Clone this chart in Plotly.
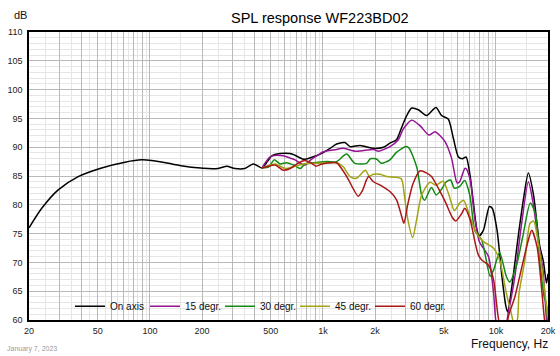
import plotly.graph_objects as go

# ---------------- data ----------------
on_f = [20, 23.7, 29.5, 38.5, 52.6, 71.8, 89.6, 102, 134, 174, 248, 278, 310, 353, 396, 444,
        480, 506, 565, 646, 690, 772, 862, 964, 1100, 1200, 1340, 1435, 1640, 1960, 2240, 2440,
        2660, 2840, 3030, 3260, 3560, 3980, 4500, 4850, 5300, 5680, 6070, 6400, 6720, 7080,
        7380, 7740, 8000, 8470, 9170, 9520, 10150, 10840, 11400, 11700, 12260, 13480, 14500,
        15400, 16500, 17900, 18800, 19600, 20000]
on_db = [76.0, 79.4, 82.6, 84.9, 86.4, 87.4, 87.8, 87.7, 87.1, 86.5, 86.3, 86.7, 86.3, 86.3, 87.1, 86.4,
         87.6, 88.5, 88.9, 88.9, 88.6, 87.9, 88.25, 88.8, 89.8, 90.55, 90.8, 90.1, 90.3, 89.8, 90.0, 90.7,
         91.3, 93.3, 95.3, 96.8, 96.5, 95.5, 96.9, 95.5, 94.9, 91.5, 88.3, 88.0, 88.3, 85.2,
         80.8, 75.9, 74.6, 75.6, 79.7, 79.4, 75.6, 67.5, 62.5, 61.4, 65.0, 74.7, 81.4,
         85.5, 81.7, 72.9, 70.2, 66.4, 68.0]

d15_f = [444, 495, 540, 590, 646, 690, 740, 790, 850, 964, 1006, 1200, 1300, 1560, 1960, 2090,
         2440, 2720, 2920, 3260, 3650, 4100, 4440, 4760, 5070, 5540, 5960, 6170, 6600, 6720,
         7080, 7560, 8020, 8470, 9070, 9700, 10100, 11000, 11820, 12860, 14000, 15400, 16300,
         17800, 18700, 19500, 20000]
d15_db = [86.4, 88.3, 88.6, 88.5, 88.1, 87.8, 87.2, 86.9, 87.8, 88.9, 89.2, 89.6, 89.8, 89.3, 89.6, 89.3,
          90.1, 91.25, 93.2, 94.7, 93.7, 92.1, 92.7, 92.0, 91.0, 88.1, 83.8, 84.0, 86.3, 86.3,
          84.5, 77.5, 73.6, 72.45, 71.0, 64.6, 59.0, 57.0, 61.4, 67.5, 76.2, 84.0, 80.8,
          72.7, 68.7, 61.0, 57.0]

d30_f = [444, 487, 523, 565, 617, 677, 740, 787, 880, 1054, 1200, 1370, 1530, 1790, 1880, 2050,
         2180, 2440, 2660, 3030, 3150, 3490, 3720, 3870, 4240, 4520, 4850, 5170, 5470, 5750,
         6170, 6600, 7080, 7560, 8280, 9260, 9700, 10500, 11500, 12000, 13100, 14300, 15800,
         16900, 17900, 19000, 19500, 20000]
d30_db = [86.4, 86.6, 87.8, 87.1, 87.3, 86.9, 86.3, 87.1, 87.3, 87.5, 87.5, 88.8, 87.2, 87.2, 88.0, 87.9,
          87.2, 87.8, 89.1, 90.1, 89.8, 86.5, 81.7, 80.8, 83.0, 81.7, 82.7, 84.0, 84.3, 82.9,
          83.2, 84.2, 81.5, 75.5, 73.9, 67.6, 68.7, 71.7, 67.5, 66.6, 69.3, 74.5, 80.3,
          78.5, 70.5, 64.0, 63.0, 59.0]

d45_f = [444, 463, 530, 605, 677, 772, 862, 964, 1100, 1200, 1310, 1435, 1560, 1760, 1850, 1960,
         2140, 2340, 2600, 2840, 2960, 3090, 3300, 3490, 3720, 4160, 4520, 4950, 5380, 5750,
         6170, 6500, 7080, 7740, 8470, 9700, 10500, 11500, 12260, 12800, 13300, 13600, 14700,
         15750, 16500, 17600, 18700, 20000]
d45_db = [86.4, 86.6, 87.1, 86.3, 86.6, 87.1, 87.2, 87.2, 87.3, 87.3, 86.6, 84.9, 84.6, 86.0, 85.0, 85.3,
          85.3, 84.9, 84.8, 84.5, 81.5, 77.6, 74.3, 77.6, 81.7, 83.9, 83.4, 84.1, 81.5, 79.0,
          80.3, 80.8, 77.9, 75.0, 73.6, 72.45, 70.4, 64.6, 61.2, 59.0, 60.0, 64.6, 70.4,
          76.8, 77.2, 73.3, 67.5, 60.3]

d60_f = [444, 473, 530, 590, 646, 726, 787, 862, 911, 990, 1100, 1200, 1280, 1410, 1490, 1600,
         1700, 1790, 1840, 1960, 2180, 2440, 2660, 2840, 2940, 3090, 3320, 3650, 3980, 4240,
         4700, 5100, 5600, 5860, 6350, 6600, 7080, 7560, 7910, 8280, 9070, 9700, 10300, 10800,
         11400, 11800, 12860, 14000, 15400, 16100, 17300, 18400, 19000, 19500]
d60_db = [86.4, 86.6, 86.9, 86.0, 86.3, 87.3, 87.7, 87.2, 86.7, 87.1, 87.3, 87.3, 86.3, 84.3, 82.9, 81.5,
          82.6, 84.4, 84.9, 84.0, 83.3, 82.3, 80.9, 78.2, 76.8, 80.0, 83.7, 85.9, 85.5, 84.9,
          82.6, 80.5, 77.8, 77.2, 78.5, 79.4, 77.5, 73.6, 71.3, 70.4, 69.5, 66.9, 60.6, 58.0,
          58.0, 60.6, 64.0, 68.7, 73.9, 75.6, 72.7, 65.2, 60.6, 58.0]

series_names = ["On axis", "15 degr.", "30 degr.", "45 degr.", "60 degr."]
series_colors = ["#000000", "#941494", "#128a12", "#a3a314", "#a81818"]

x_tick_values = [20, 30, 40, 50, 60, 70, 80, 90,
                 100, 200, 300, 400, 500, 600, 700, 800, 900,
                 1000, 2000, 3000, 4000, 5000, 6000, 7000, 8000, 9000,
                 10000, 20000]
x_tick_labels = ["20", "", "", "50", "", "", "", "",
                 "100", "200", "", "", "500", "", "", "", "",
                 "1k", "2k", "", "", "5k", "", "", "", "",
                 "10k", "20k"]
x_minor_values = [25, 35, 45, 55, 65, 75, 85, 95,
                  150, 250, 350, 450, 550, 650, 750, 850, 950,
                  1500, 2500, 3500, 4500, 5500, 6500, 7500, 8500, 9500,
                  15000]
y_tick_values = [60, 65, 70, 75, 80, 85, 90, 95, 100, 105, 110]

FONT = "Liberation Sans, Arial, sans-serif"

fig = go.Figure()
all_f = [on_f, d15_f, d30_f, d45_f, d60_f]
all_db = [on_db, d15_db, d30_db, d45_db, d60_db]
for name, col, fx, dy in zip(series_names, series_colors, all_f, all_db):
    fig.add_trace(go.Scatter(x=fx, y=dy, name=name, mode="lines",
                             line=dict(color=col, width=1.5, shape="spline", smoothing=0.7)))

fig.update_layout(
    template="none",
    width=560, height=356, autosize=False,
    margin=dict(l=29, r=12, t=32, b=36, autoexpand=False),
    paper_bgcolor="white", plot_bgcolor="white",
    font=dict(family=FONT, size=9, color="#222"),
    showlegend=True,
    legend=dict(orientation="h", x=0.079, y=0.048, xanchor="left", yanchor="middle",
                bgcolor="rgba(0,0,0,0)", font=dict(size=10, color="#111"),
                entrywidth=30, entrywidthmode="pixels", itemwidth=30),
    xaxis=dict(type="log", range=[1.30103, 4.30103], automargin=False,
               tickmode="array", tickvals=x_tick_values, ticktext=x_tick_labels,
               showgrid=True, gridcolor="#b9b9b9", gridwidth=1,
               minor=dict(tickmode="array", tickvals=x_minor_values, showgrid=True,
                          gridcolor="#e6e6e6", gridwidth=1, ticks=""),
               ticks="", showline=True, linecolor="black", linewidth=1.5, mirror=True,
               zeroline=False, tickfont=dict(size=9, color="#222"), ticklabelstandoff=1),
    yaxis=dict(range=[60, 110], tickmode="array", tickvals=y_tick_values, automargin=False,
               showgrid=True, gridcolor="#b9b9b9", gridwidth=1,
               minor=dict(dtick=1, showgrid=True, gridcolor="#e6e6e6", gridwidth=1, ticks=""),
               ticks="", showline=True, linecolor="black", linewidth=1.5, mirror=True,
               zeroline=False, tickfont=dict(size=9, color="#222"), ticklabelstandoff=3),
)

fig.add_annotation(text="SPL response WF223BD02", xref="paper", yref="paper",
                   x=0.561, y=1.049, xanchor="center", yanchor="middle", showarrow=False,
                   font=dict(size=14.5, color="#000", family=FONT))
fig.add_annotation(text="dB", xref="paper", yref="paper",
                   x=-0.0173, y=1.059, xanchor="center", yanchor="middle", showarrow=False,
                   font=dict(size=11, color="#111", family=FONT))
fig.add_annotation(text="Frequency, Hz", xref="paper", yref="paper",
                   x=1.004, y=-0.085, xanchor="right", yanchor="middle", showarrow=False,
                   font=dict(size=12, color="#111", family=FONT))
fig.add_annotation(text="January 7, 2023", xref="paper", yref="paper",
                   x=-0.046, y=-0.101, xanchor="left", yanchor="middle", showarrow=False,
                   font=dict(size=7, color="#9a9a9a", family=FONT))

fig.write_html("out.html", config={"displayModeBar": False},
               post_script="document.body.style.margin='0';document.body.style.overflow='hidden';")
